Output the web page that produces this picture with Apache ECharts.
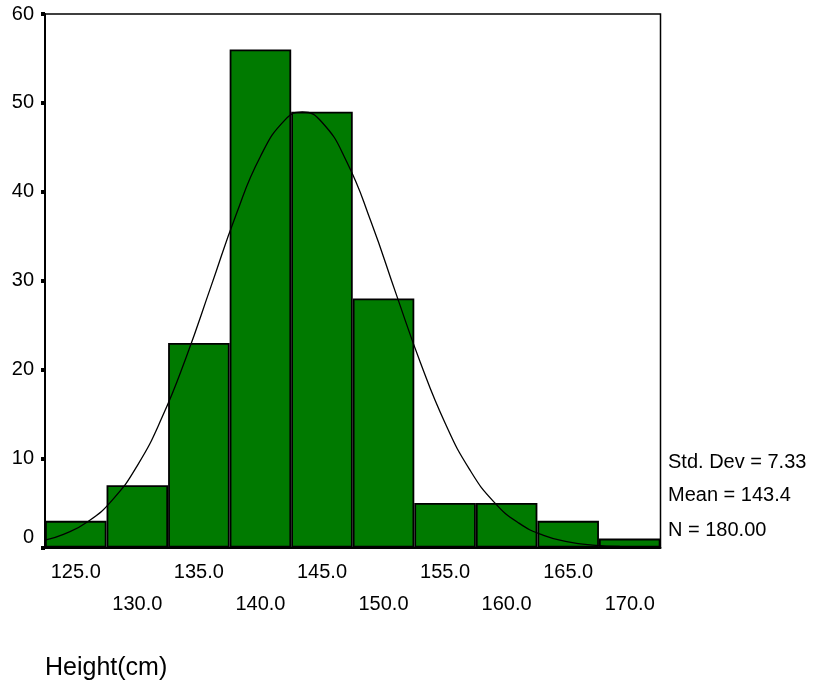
<!DOCTYPE html>
<html><head><meta charset="utf-8">
<script src="https://cdn.jsdelivr.net/npm/echarts@6/dist/echarts.min.js"></script>
<style>html,body{margin:0;padding:0;background:#fff}#c{width:815px;height:687px}</style>
</head><body><div id="c"></div>
<script>
const binLabels = ['125.0','130.0','135.0','140.0','145.0','150.0','155.0','160.0','165.0','170.0'];
const counts = [3, 7, 23, 56, 49, 28, 5, 5, 3, 1];
const curveX = [122.5,124,126,128,130,132,134,136,138,140,142,143.4,145,147,149,151,153,155,157,159,161,163,165,167,169.2];
const curveY = [0.84,1.48,2.92,5.39,9.21,14.61,21.52,29.42,37.34,43.98,48.09,48.98,47.83,43.42,36.58,28.61,20.78,14.00,8.76,5.08,2.74,1.37,0.64,0.27,0.11];
const statsText = ['Std. Dev = 7.33', 'Mean = 143.4', 'N = 180.00'];
const xTitle = 'Height(cm)';

const FONT = "'Liberation Sans', Arial, sans-serif";
const chart = echarts.init(document.getElementById('c'));
chart.setOption({
  animation: false,
  backgroundColor: '#fff',
  grid: {left: 45, right: 154.5, top: 14, bottom: 139.5, show: true, borderColor: '#000', borderWidth: 1.5, backgroundColor: 'transparent'},
  xAxis: [{
    type: 'category', data: binLabels, position: 'bottom',
    axisLine: {lineStyle: {color: '#000', width: 2}},
    axisTick: {alignWithLabel: true, interval: 0, length: 3, lineStyle: {color: '#000', width: 4}},
    axisLabel: {
      interval: 0, margin: 15, color: '#000', fontFamily: FONT, fontSize: 20,
      formatter: (v, i) => (i % 2 === 0 ? '{a|' + v + '}' : '{b|' + v + '}'),
      rich: {a: {fontFamily: FONT, fontSize: 20, lineHeight: 20, color: '#000'},
             b: {fontFamily: FONT, fontSize: 20, lineHeight: 20, color: '#000', padding: [64, 0, 0, 0]}}
    },
    splitLine: {show: false}
  }, {
    type: 'value', min: 122.5, max: 172.5, show: false
  }],
  yAxis: {
    type: 'value', min: 0, max: 60, interval: 10,
    axisLine: {show: true, lineStyle: {color: '#000', width: 2}},
    axisTick: {show: true, length: 4, lineStyle: {color: '#000', width: 4}},
    axisLabel: {
      margin: 11, color: '#000', fontFamily: FONT, fontSize: 20,
      formatter: v => (v === 0 ? '{z|0}' : '{n|' + v + '}'),
      rich: {z: {fontFamily: FONT, fontSize: 20, color: '#000', padding: [0, 0, 20, 0]},
             n: {fontFamily: FONT, fontSize: 20, color: '#000'}}
    },
    splitLine: {show: false}
  },
  series: [{
    type: 'bar', data: counts, xAxisIndex: 0, barCategoryGap: '0%',
    itemStyle: {color: '#007a00', borderColor: '#000', borderWidth: 1.8}
  }, {
    type: 'line', xAxisIndex: 1, data: curveX.map((x, i) => [x, curveY[i]]),
    smooth: true, showSymbol: false, symbol: 'none',
    lineStyle: {color: '#000', width: 1.3}, z: 5
  }],
  graphic: [
    {type: 'text', left: 668, top: 452, style: {text: statsText[0], font: '20px ' + FONT, fill: '#000'}},
    {type: 'text', left: 668, top: 485, style: {text: statsText[1], font: '20px ' + FONT, fill: '#000'}},
    {type: 'text', left: 668, top: 520, style: {text: statsText[2], font: '20px ' + FONT, fill: '#000'}},
    {type: 'text', left: 45, top: 656, style: {text: xTitle, font: '25px ' + FONT, fill: '#000'}}
  ]
});
</script></body></html>
